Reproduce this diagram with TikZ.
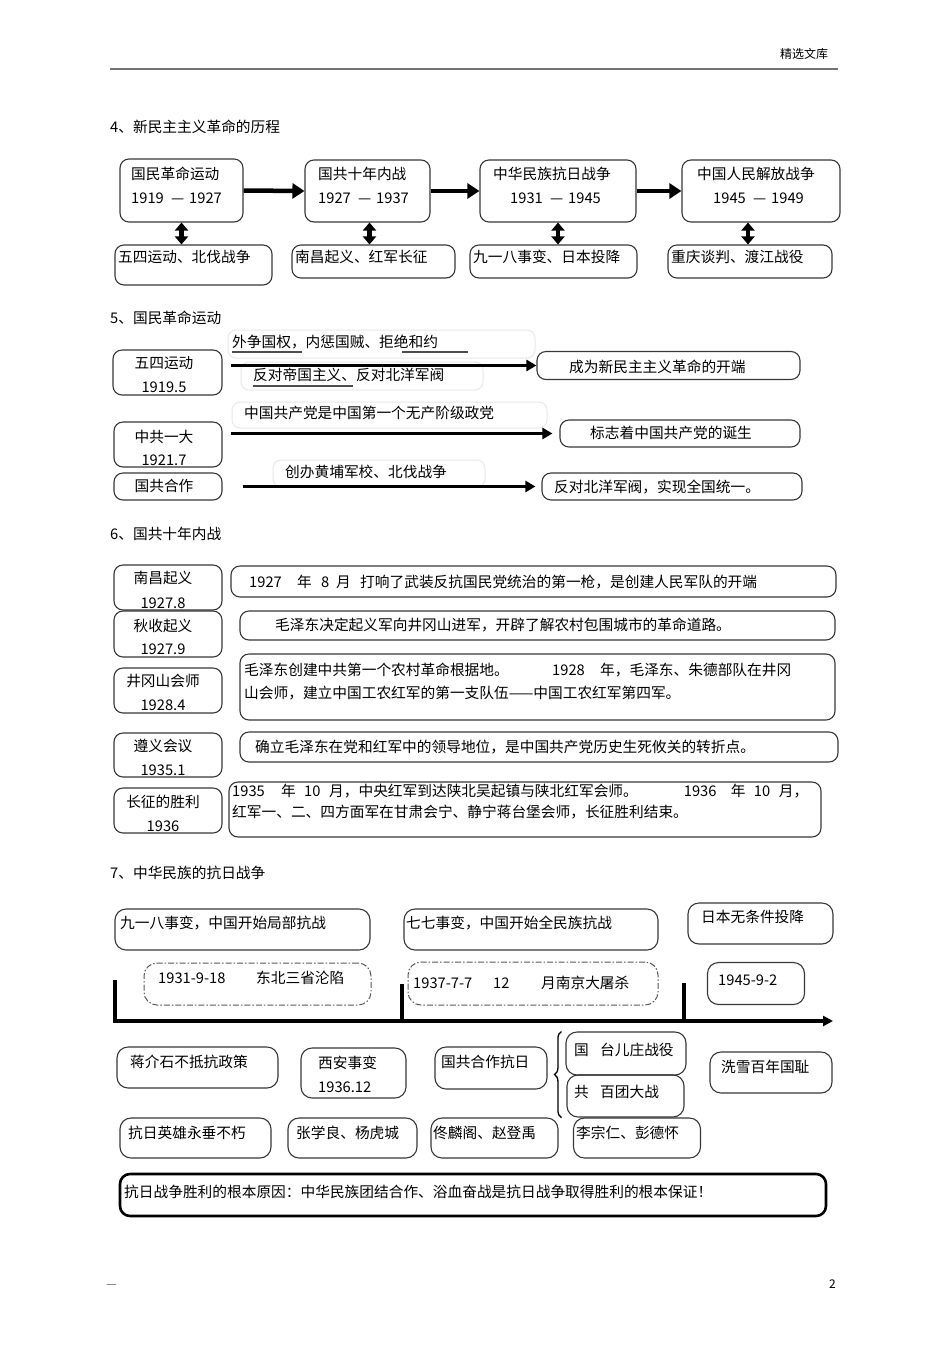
\documentclass[tikz,border=0pt]{standalone}
\usepackage{fontspec}
\setmainfont{Noto Sans CJK SC}
\usetikzlibrary{arrows.meta, positioning, decorations.pathreplacing}

\tikzset{
  box/.style={draw=black!78, line width=1.1pt, rounded corners=9pt, inner sep=0pt},
  ghost/.style={draw=black!9, line width=1pt, rounded corners=8pt, inner sep=0pt},
  dashbox/.style={draw=black!65, line width=1pt, rounded corners=13pt, inner sep=0pt,
                  dash pattern=on 6pt off 2pt on 1.5pt off 2pt},
  heavybox/.style={draw=black, line width=2.6pt, rounded corners=10pt, inner sep=0pt},
  txt/.style={anchor=base west, inner sep=0pt},
  ctxt/.style={anchor=base, inner sep=0pt},
  flow/.style={line width=4.5pt, -{Triangle[length=12pt,width=15pt]}},
  link/.style={line width=4.5pt, {Triangle[length=8pt,width=13pt]}-{Triangle[length=8pt,width=13pt]}},
  lead/.style={line width=3.5pt, -{Triangle[length=10pt,width=11pt]}},
  axis/.style={line width=3.5pt},
  uline/.style={draw=black!70, line width=1.2pt},
  small/.style={font=\fontsize{12}{14}\selectfont},
}

\begin{document}
\begin{tikzpicture}[x=1pt, y=-1pt, font=\fontsize{14.7}{18}\selectfont]
  \path[fill=white, use as bounding box] (0,0) rectangle (950,1345);

  % page header and footer
  \coordinate (hl) at (110,69);
  \coordinate (hr) at (838,69);
  \draw[black!55, line width=1.6pt] (hl) -- (hr);
  \node[txt, small] (hd) at (780,58) {精选文库};
  \node[txt, small, text=black!60] (fl) at (106,1288) {—};
  \node[txt, small] (fr) at (829,1288) {2};

  % 4
  \node[txt] (h4) at (110,132.5) {4、新民主主义革命的历程};
  \node[box, minimum width=123, minimum height=63] (s4a) at (181.5,190.5) {};
  \node[box, minimum width=125, minimum height=62] (s4b) at (367.5,191) {};
  \node[box, minimum width=156, minimum height=62] (s4c) at (558,191) {};
  \node[box, minimum width=158, minimum height=62] (s4d) at (761,191) {};
  \node[txt] (s4a1) at (131,179) {国民革命运动};
  \node[txt] (s4a2) at (131,203) {\makebox[40pt][l]{1919}\makebox[18pt][l]{—}1927};
  \node[txt] (s4b1) at (318,179) {国共十年内战};
  \node[txt] (s4b2) at (318,203) {\makebox[40pt][l]{1927}\makebox[18pt][l]{—}1937};
  \node[txt] (s4c1) at (493,179) {中华民族抗日战争};
  \node[txt] (s4c2) at (510,203) {\makebox[40pt][l]{1931}\makebox[18pt][l]{—}1945};
  \node[txt] (s4d1) at (697,179) {中国人民解放战争};
  \node[txt] (s4d2) at (713,203) {\makebox[40pt][l]{1945}\makebox[18pt][l]{—}1949};
  \draw[flow] (s4a.east) -- (s4b.west);
  \draw[flow] (s4b.east) -- (s4c.west);
  \draw[flow] (s4c.east) -- (s4d.west);

  \node[box, minimum width=157, minimum height=40] (s4e) at (193.5,265) {};
  \node[box, minimum width=163, minimum height=33] (s4f) at (373.5,261.5) {};
  \node[box, minimum width=167, minimum height=33] (s4g) at (553.5,261.5) {};
  \node[box, minimum width=164, minimum height=33] (s4h) at (750,261.5) {};
  \node[txt] (s4e1) at (118,262.5) {五四运动、北伐战争};
  \node[txt] (s4f1) at (295,262.5) {南昌起义、红军长征};
  \node[txt] (s4g1) at (473,262.5) {九一八事变、日本投降};
  \node[txt] (s4h1) at (671,262.5) {重庆谈判、渡江战役};
  \draw[link] (s4a.south) -- (s4a.south |- s4e.north);
  \draw[link] ([xshift=2pt]s4b.south) -- ([xshift=2pt]s4b.south |- s4f.north);
  \draw[link] (s4c.south) -- (s4c.south |- s4g.north);
  \draw[link] ([xshift=-13pt]s4d.south) -- ([xshift=-13pt]s4d.south |- s4h.north);

  % 5
  \node[txt] (h5) at (110,323.5) {5、国民革命运动};
  \node[ghost, minimum width=307, minimum height=28] (g1) at (381.5,344) {};
  \node[ghost, minimum width=242, minimum height=28] (g2) at (362,376) {};
  \node[ghost, minimum width=315, minimum height=26] (g3) at (389.5,415) {};
  \node[ghost, minimum width=212, minimum height=27] (g4) at (379,473.5) {};
  \node[txt] (w1) at (232,347.5) {外争国权，内惩国贼、拒绝和约};
  \draw[uline] (232,352) -- (302,352);
  \draw[uline] (402,352) -- (468,352);
  \node[txt] (w2) at (253,380.5) {反对帝国主义、反对北洋军阀};
  \draw[uline] (253,386) -- (353,386);
  \node[txt] (w3) at (244,418.5) {中国共产党是中国第一个无产阶级政党};
  \node[txt] (w4) at (285,477.5) {创办黄埔军校、北伐战争};

  \node[box, minimum width=109, minimum height=45] (wusi) at (167.5,372.5) {};
  \node[box, minimum width=108, minimum height=45] (yida) at (168,444.5) {};
  \node[box, minimum width=108, minimum height=27] (hezuo) at (168,486.5) {};
  \node[ctxt] (wusi1) at (164,368.5) {五四运动};
  \node[ctxt] (wusi2) at (164,392) {1919.5};
  \node[ctxt] (yida1) at (164,442.5) {中共一大};
  \node[ctxt] (yida2) at (164,465.5) {1921.7};
  \node[ctxt] (hezuo1) at (164,491) {国共合作};

  \node[box, minimum width=263, minimum height=28] (kaiduan) at (668.5,365.5) {};
  \node[box, minimum width=240, minimum height=27] (dansheng) at (680,433.5) {};
  \node[box, minimum width=260, minimum height=27] (tongyi) at (672,486.5) {};
  \node[txt] (kaiduan1) at (569,372) {成为新民主主义革命的开端};
  \node[txt] (dansheng1) at (590,438) {标志着中国共产党的诞生};
  \node[txt] (tongyi1) at (554,492) {反对北洋军阀，实现全国统一。};
  \draw[lead] ([xshift=8pt]wusi.east |- kaiduan.west) -- (kaiduan.west);
  \draw[lead] ([xshift=8pt]yida.east |- dansheng.west) -- ([xshift=-7pt]dansheng.west);
  \draw[lead] ([xshift=20pt]hezuo.east |- tongyi.west) -- ([xshift=-6pt]tongyi.west);

  % 6
  \node[txt] (h6) at (110,539.5) {6、国共十年内战};
  \node[box, minimum width=108, minimum height=45] (nc) at (168,587.5) {};
  \node[box, minimum width=108, minimum height=46] (qs) at (168,634) {};
  \node[box, minimum width=108, minimum height=45] (jg) at (168,690.5) {};
  \node[box, minimum width=108, minimum height=44] (zy) at (168,755) {};
  \node[box, minimum width=108, minimum height=45] (cz) at (168,810.5) {};
  \node[ctxt] (nc1) at (163,583.5) {南昌起义};
  \node[ctxt] (nc2) at (163,608.5) {1927.8};
  \node[ctxt] (qs1) at (163,631.5) {秋收起义};
  \node[ctxt] (qs2) at (163,654.5) {1927.9};
  \node[ctxt] (jg1) at (163,686.5) {井冈山会师};
  \node[ctxt] (jg2) at (163,710.5) {1928.4};
  \node[ctxt] (zy1) at (163,751.5) {遵义会议};
  \node[ctxt] (zy2) at (163,775.5) {1935.1};
  \node[ctxt] (cz1) at (163,807.5) {长征的胜利};
  \node[ctxt] (cz2) at (163,831.5) {1936};

  \node[box, minimum width=605, minimum height=31] (r1) at (533.5,581.5) {};
  \node[box, minimum width=595, minimum height=29] (r2) at (537.5,625.5) {};
  \node[box, minimum width=595, minimum height=66] (r3) at (537.5,687) {};
  \node[box, minimum width=598, minimum height=30] (r4) at (539,747) {};
  \node[box, minimum width=592, minimum height=55] (r5) at (525,809.5) {};
  \node[txt] (r1a) at (249,587.5) {\makebox[48pt][l]{1927}\makebox[24pt][l]{年}\makebox[15pt][l]{8}\makebox[24pt][l]{月}打响了武装反抗国民党统治的第一枪，是创建人民军队的开端};
  \node[txt] (r2a) at (275,630.5) {毛泽东决定起义军向井冈山进军，开辟了解农村包围城市的革命道路。};
  \node[txt] (r3a) at (244,675.5) {\makebox[308pt][l]{毛泽东创建中共第一个农村革命根据地。}\makebox[48pt][l]{1928}年，毛泽东、朱德部队在井冈};
  \node[txt] (r3b) at (244,698) {山会师，建立中国工农红军的第一支队伍——中国工农红军第四军。};
  \node[txt] (r4a) at (255,752) {确立毛泽东在党和红军中的领导地位，是中国共产党历史生死攸关的转折点。};
  \node[txt] (r5a) at (232,796) {\makebox[49pt][l]{1935}\makebox[23pt][l]{年}\makebox[25pt][l]{10}月，中央红军到达陕北吴起镇与陕北红军会师。\hspace{46pt}\makebox[47pt][l]{1936}\makebox[23pt][l]{年}\makebox[25pt][l]{10}月，};
  \node[txt] (r5b) at (232,817) {红军一、二、四方面军在甘肃会宁、静宁蒋台堡会师，长征胜利结束。};

  % 7
  \node[txt] (h7) at (110,878.5) {7、中华民族的抗日战争};
  \node[box, rounded corners=11pt, minimum width=255, minimum height=41] (b918) at (242.5,929.5) {};
  \node[box, rounded corners=11pt, minimum width=254, minimum height=41] (b77) at (531,929.5) {};
  \node[box, rounded corners=11pt, minimum width=145, minimum height=41] (btx) at (760.5,923.5) {};
  \node[txt] (b918a) at (120,928) {九一八事变，中国开始局部抗战};
  \node[txt] (b77a) at (406,928) {七七事变，中国开始全民族抗战};
  \node[txt] (btxa) at (701,922) {日本无条件投降};

  \node[dashbox, minimum width=227, minimum height=42] (d1) at (257.5,984) {};
  \node[dashbox, minimum width=250, minimum height=43] (d2) at (533,983.5) {};
  \node[box, rounded corners=11pt, minimum width=97, minimum height=42] (b92) at (756,983.5) {};
  \node[txt] (d1a) at (158,983.5) {\makebox[98pt][l]{1931-9-18}东北三省沦陷};
  \node[txt] (d2a) at (413,988.5) {\makebox[80pt][l]{1937-7-7}\makebox[48pt][l]{12}月南京大屠杀};
  \node[txt] (b92a) at (718,985.5) {1945-9-2};

  \coordinate (k0) at (115,980);
  \coordinate (k1) at (402,984);
  \coordinate (k2) at (684,983);
  \coordinate (t0) at (115,1021);
  \coordinate (tend) at (833,1021);
  \draw[axis, -{Triangle[length=10pt,width=10pt]}] (k0) -- (t0) -- (tend);
  \draw[axis] (k1) -- (k1 |- t0);
  \draw[axis] (k2) -- (k2 |- t0);

  \node[box, rounded corners=11pt, minimum width=161, minimum height=41] (bjiang) at (197.5,1067.5) {};
  \node[box, rounded corners=11pt, minimum width=105, minimum height=50] (bxian) at (353.5,1073) {};
  \node[box, rounded corners=11pt, minimum width=112, minimum height=42] (bhz) at (491,1068) {};
  \node[box, rounded corners=11pt, minimum width=120, minimum height=43] (btaier) at (626,1053.5) {};
  \node[box, rounded corners=11pt, minimum width=117, minimum height=42] (bbt) at (625.5,1096) {};
  \node[box, rounded corners=11pt, minimum width=122, minimum height=41] (bxixue) at (771,1072.5) {};
  \node[txt] (bjianga) at (130,1067) {蒋介石不抵抗政策};
  \node[txt] (bxiana) at (318,1068.5) {西安事变};
  \node[txt] (bxianb) at (318,1092.5) {1936.12};
  \node[txt] (bhza) at (441,1067.5) {国共合作抗日};
  \node[txt] (btaiera) at (574,1055) {\makebox[26pt][l]{国}台儿庄战役};
  \node[txt] (bbta) at (574,1097.5) {\makebox[26pt][l]{共}百团大战};
  \node[txt] (bxixuea) at (721,1072.5) {洗雪百年国耻};
  \draw[line width=1.3pt, decorate, decoration={brace, amplitude=7pt}]
    ([xshift=-4pt]btaier.west |- bbt.south) -- ([xshift=-4pt]btaier.north west);

  \node[box, rounded corners=11pt, minimum width=151, minimum height=40] (bying) at (195.5,1138) {};
  \node[box, rounded corners=11pt, minimum width=129, minimum height=40] (bzhang) at (352.5,1138) {};
  \node[box, rounded corners=11pt, minimum width=127, minimum height=40] (btong) at (494.5,1138) {};
  \node[box, rounded corners=11pt, minimum width=127, minimum height=40] (bli) at (637,1138) {};
  \node[txt] (byinga) at (128,1138.5) {抗日英雄永垂不朽};
  \node[txt] (bzhanga) at (296,1138.5) {张学良、杨虎城};
  \node[txt] (btonga) at (433,1138.5) {佟麟阁、赵登禹};
  \node[txt] (blia) at (576,1138.5) {李宗仁、彭德怀};

  \node[heavybox, minimum width=706, minimum height=42] (root) at (473,1195) {};
  \node[txt] (roota) at (124,1197) {抗日战争胜利的根本原因：中华民族团结合作、浴血奋战是抗日战争取得胜利的根本保证！};
\end{tikzpicture}
\end{document}
